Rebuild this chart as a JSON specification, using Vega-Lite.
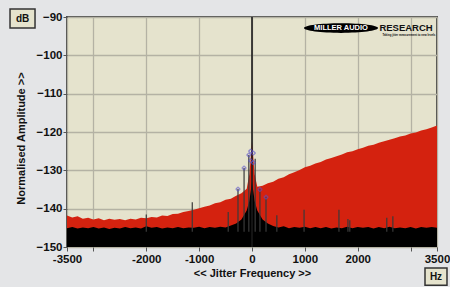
{
  "$schema": "https://vega.github.io/schema/vega-lite/v6.json",
  "width": 370,
  "height": 230,
  "autosize": {"type": "none"},
  "padding": {"left": 67, "top": 17, "right": 13, "bottom": 40},
  "background": "#e4e5e7",
  "view": {"fill": "#e5e3cd", "stroke": "#4a4a4a", "strokeWidth": 2},
  "config": {
    "font": "Liberation Sans",
    "axis": {
      "labelFont": "Liberation Sans Narrow, Liberation Sans", "labelFontWeight": "bold", "labelFontSize": 11.5, "labelColor": "#111",
      "titleFont": "Liberation Sans", "titleFontWeight": "bold", "titleFontSize": 11, "titleColor": "#111",
      "gridColor": "#b4b2a4", "gridWidth": 1.3, "tickColor": "#555", "tickSize": 4, "domain": false,
      "labelOverlap": false, "labelBound": false
    }
  },
  "datasets": {
    "spec": [
      {"f": -3500, "red": -141.8, "floor": -145.1}, {"f": -3400, "red": -142.3, "floor": -144.8},
      {"f": -3300, "red": -142.0, "floor": -145.2}, {"f": -3200, "red": -142.6, "floor": -144.9},
      {"f": -3100, "red": -142.4, "floor": -145.1}, {"f": -3000, "red": -142.8, "floor": -144.8},
      {"f": -2900, "red": -142.5, "floor": -145.2}, {"f": -2800, "red": -143.0, "floor": -144.9},
      {"f": -2700, "red": -142.6, "floor": -145.3}, {"f": -2600, "red": -142.9, "floor": -145.0},
      {"f": -2500, "red": -142.7, "floor": -145.2}, {"f": -2400, "red": -143.0, "floor": -144.8},
      {"f": -2300, "red": -142.6, "floor": -145.1}, {"f": -2200, "red": -142.8, "floor": -144.9},
      {"f": -2100, "red": -142.4, "floor": -145.2}, {"f": -2000, "red": -142.5, "floor": -144.6},
      {"f": -1900, "red": -142.2, "floor": -145.0}, {"f": -1800, "red": -142.3, "floor": -144.8},
      {"f": -1700, "red": -141.8, "floor": -145.2}, {"f": -1600, "red": -141.9, "floor": -144.9},
      {"f": -1500, "red": -141.4, "floor": -145.1}, {"f": -1400, "red": -141.3, "floor": -144.8},
      {"f": -1300, "red": -140.9, "floor": -145.1}, {"f": -1200, "red": -140.6, "floor": -144.9},
      {"f": -1100, "red": -140.3, "floor": -145.0}, {"f": -1000, "red": -139.9, "floor": -144.7},
      {"f": -900, "red": -139.5, "floor": -145.1}, {"f": -800, "red": -139.2, "floor": -144.8},
      {"f": -700, "red": -138.6, "floor": -145.0}, {"f": -600, "red": -138.3, "floor": -144.7},
      {"f": -500, "red": -137.7, "floor": -144.9}, {"f": -400, "red": -137.4, "floor": -144.4},
      {"f": -300, "red": -136.6, "floor": -143.9}, {"f": -200, "red": -136.0, "floor": -142.8},
      {"f": -100, "red": -134.8, "floor": -140.5}, {"f": -50, "red": -131.0, "floor": -138.0},
      {"f": 0, "red": -122.5, "floor": -133.0}, {"f": 50, "red": -131.0, "floor": -138.0},
      {"f": 100, "red": -134.3, "floor": -140.5}, {"f": 200, "red": -134.0, "floor": -142.8},
      {"f": 300, "red": -133.4, "floor": -143.9}, {"f": 400, "red": -133.0, "floor": -144.5},
      {"f": 500, "red": -132.2, "floor": -144.9}, {"f": 600, "red": -131.8, "floor": -144.6},
      {"f": 700, "red": -131.0, "floor": -145.1}, {"f": 800, "red": -130.5, "floor": -144.8},
      {"f": 900, "red": -129.9, "floor": -145.0}, {"f": 1000, "red": -129.2, "floor": -144.7},
      {"f": 1100, "red": -128.8, "floor": -145.1}, {"f": 1200, "red": -128.2, "floor": -144.8},
      {"f": 1300, "red": -127.8, "floor": -145.1}, {"f": 1400, "red": -127.2, "floor": -144.8},
      {"f": 1500, "red": -126.8, "floor": -145.2}, {"f": 1600, "red": -126.3, "floor": -144.9},
      {"f": 1700, "red": -125.9, "floor": -145.1}, {"f": 1800, "red": -125.3, "floor": -144.7},
      {"f": 1900, "red": -125.0, "floor": -145.1}, {"f": 2000, "red": -124.5, "floor": -144.8},
      {"f": 2100, "red": -124.1, "floor": -145.0}, {"f": 2200, "red": -123.6, "floor": -144.8},
      {"f": 2300, "red": -123.3, "floor": -145.2}, {"f": 2400, "red": -122.8, "floor": -144.8},
      {"f": 2500, "red": -122.4, "floor": -145.1}, {"f": 2600, "red": -122.0, "floor": -144.7},
      {"f": 2700, "red": -121.6, "floor": -145.1}, {"f": 2800, "red": -121.2, "floor": -144.9},
      {"f": 2900, "red": -120.9, "floor": -145.1}, {"f": 3000, "red": -120.4, "floor": -144.8},
      {"f": 3100, "red": -120.1, "floor": -145.2}, {"f": 3200, "red": -119.6, "floor": -144.8},
      {"f": 3300, "red": -119.3, "floor": -145.0}, {"f": 3400, "red": -118.8, "floor": -144.8},
      {"f": 3500, "red": -118.3, "floor": -145.0}
    ],
    "spikes": [
      {"f": -2000, "top": -141.5}, {"f": -1130, "top": -138.3}, {"f": -450, "top": -140.9},
      {"f": -265, "top": -134.9}, {"f": -150, "top": -129.4}, {"f": -60, "top": -126.0},
      {"f": 60, "top": -127.0}, {"f": 150, "top": -135.0}, {"f": 265, "top": -137.0},
      {"f": 470, "top": -141.7}, {"f": 985, "top": -140.3}, {"f": 1645, "top": -140.3},
      {"f": 1815, "top": -142.7}, {"f": 1850, "top": -143.0}, {"f": 2550, "top": -142.4},
      {"f": 2665, "top": -142.0}
    ],
    "markers": [
      {"f": -150, "v": -129.4}, {"f": -265, "v": -134.9}, {"f": 150, "v": -135.0},
      {"f": 265, "v": -137.0}, {"f": -25, "v": -125.0}, {"f": 25, "v": -125.5},
      {"f": -25, "v": -127.5}, {"f": 25, "v": -128.0}, {"f": -60, "v": -126.0}
    ]
  },
  "layer": [
    {
      "data": {"name": "spec"},
      "mark": {"type": "area", "color": "#d4220f", "interpolate": "linear"},
      "encoding": {
        "x": {"field": "f", "type": "quantitative",
              "scale": {"domain": [-3500, 3500], "nice": false, "zero": false},
              "axis": {"values": [-3500, -3000, -2000, -1000, 0, 1000, 2000, 3000, 3500],
                       "labelExpr": "abs(datum.value) == 3000 ? '' : datum.value",
                       "title": "<< Jitter Frequency >>", "titlePadding": 3, "labelPadding": 2,
                       "labelFlush": false}},
        "y": {"field": "red", "type": "quantitative",
              "scale": {"domain": [-150, -90], "nice": false, "zero": false},
              "axis": {"values": [-150, -140, -130, -120, -110, -100, -90], "tickCount": 7,
                       "grid": true, "ticks": true,
                       "title": "Normalised Amplitude >>", "titlePadding": 10, "labelPadding": 1,
                       "titleY": 121}},
        "y2": {"datum": -150}
      }
    },
    {
      "data": {"name": "spec"},
      "mark": {"type": "area", "color": "#000000", "interpolate": "linear"},
      "encoding": {
        "x": {"field": "f", "type": "quantitative"},
        "y": {"field": "floor", "type": "quantitative"},
        "y2": {"datum": -150}
      }
    },
    {
      "data": {"name": "spikes"},
      "mark": {"type": "rule", "color": "#3a3a3a", "strokeWidth": 1.2},
      "encoding": {
        "x": {"field": "f", "type": "quantitative"},
        "y": {"field": "top", "type": "quantitative"},
        "y2": {"datum": -146}
      }
    },
    {
      "data": {"values": [{"f": 0, "top": -90, "bottom": -150}]},
      "mark": {"type": "rule", "color": "#1a1a1a", "strokeWidth": 1.6},
      "encoding": {
        "x": {"field": "f", "type": "quantitative"},
        "y": {"field": "top", "type": "quantitative"},
        "y2": {"field": "bottom"}
      }
    },
    {
      "data": {"name": "markers"},
      "mark": {"type": "point", "shape": "cross", "color": "#5a52c8", "size": 14, "strokeWidth": 1, "filled": false},
      "encoding": {
        "x": {"field": "f", "type": "quantitative"},
        "y": {"field": "v", "type": "quantitative"}
      }
    },
    {
      "data": {"values": [{"x1": -4578, "x2": -4105, "y1": -87.9, "y2": -92.9, "tx": -4341, "ty": -90.4, "t": "dB"},
                          {"x1": 3273, "x2": 3689, "y1": -155.5, "y2": -160.0, "tx": 3481, "ty": -157.75, "t": "Hz"}]},
      "layer": [
        {
          "mark": {"type": "rect", "fill": "#e5e3cd", "stroke": "#333333", "strokeWidth": 1.5},
          "encoding": {
            "x": {"field": "x1", "type": "quantitative"},
            "x2": {"field": "x2"},
            "y": {"field": "y1", "type": "quantitative"},
            "y2": {"field": "y2"}
          }
        },
        {
          "mark": {"type": "text", "font": "Liberation Sans", "fontWeight": "bold", "fontSize": 10, "color": "#111", "baseline": "middle", "align": "center"},
          "encoding": {
            "x": {"field": "tx", "type": "quantitative"},
            "y": {"field": "ty", "type": "quantitative"},
            "text": {"field": "t"}
          }
        }
      ]
    },
    {
      "data": {"values": [{"f": 1684, "v": -92.9}]},
      "mark": {"type": "point", "shape": "M-1,0 A1,0.13 0 1,1 1,0 A1,0.13 0 1,1 -1,0 Z", "filled": true, "color": "#000000", "size": 5476, "opacity": 1},
      "encoding": {
        "x": {"field": "f", "type": "quantitative"},
        "y": {"field": "v", "type": "quantitative"}
      }
    },
    {
      "data": {"values": [{"f": 1684, "v": -92.9, "t": "MILLER AUDIO"}]},
      "mark": {"type": "text", "font": "Liberation Sans", "fontWeight": "bold", "fontSize": 7.5, "baseline": "middle", "align": "center", "color": "#ffffff"},
      "encoding": {
        "x": {"field": "f", "type": "quantitative"},
        "y": {"field": "v", "type": "quantitative"},
        "text": {"field": "t"}
      }
    },
    {
      "data": {"values": [{"f": 2410, "v": -92.9, "t": "RESEARCH", "s": 9.5}, {"f": 2470, "v": -94.6, "t": "Taking jitter measurement to new levels", "s": 2.8}]},
      "mark": {"type": "text", "font": "Liberation Sans", "fontWeight": "bold", "baseline": "middle", "align": "left", "color": "#111111"},
      "encoding": {
        "x": {"field": "f", "type": "quantitative"},
        "y": {"field": "v", "type": "quantitative"},
        "text": {"field": "t"},
        "size": {"field": "s", "type": "quantitative", "scale": null, "legend": null}
      }
    }
  ]
}
